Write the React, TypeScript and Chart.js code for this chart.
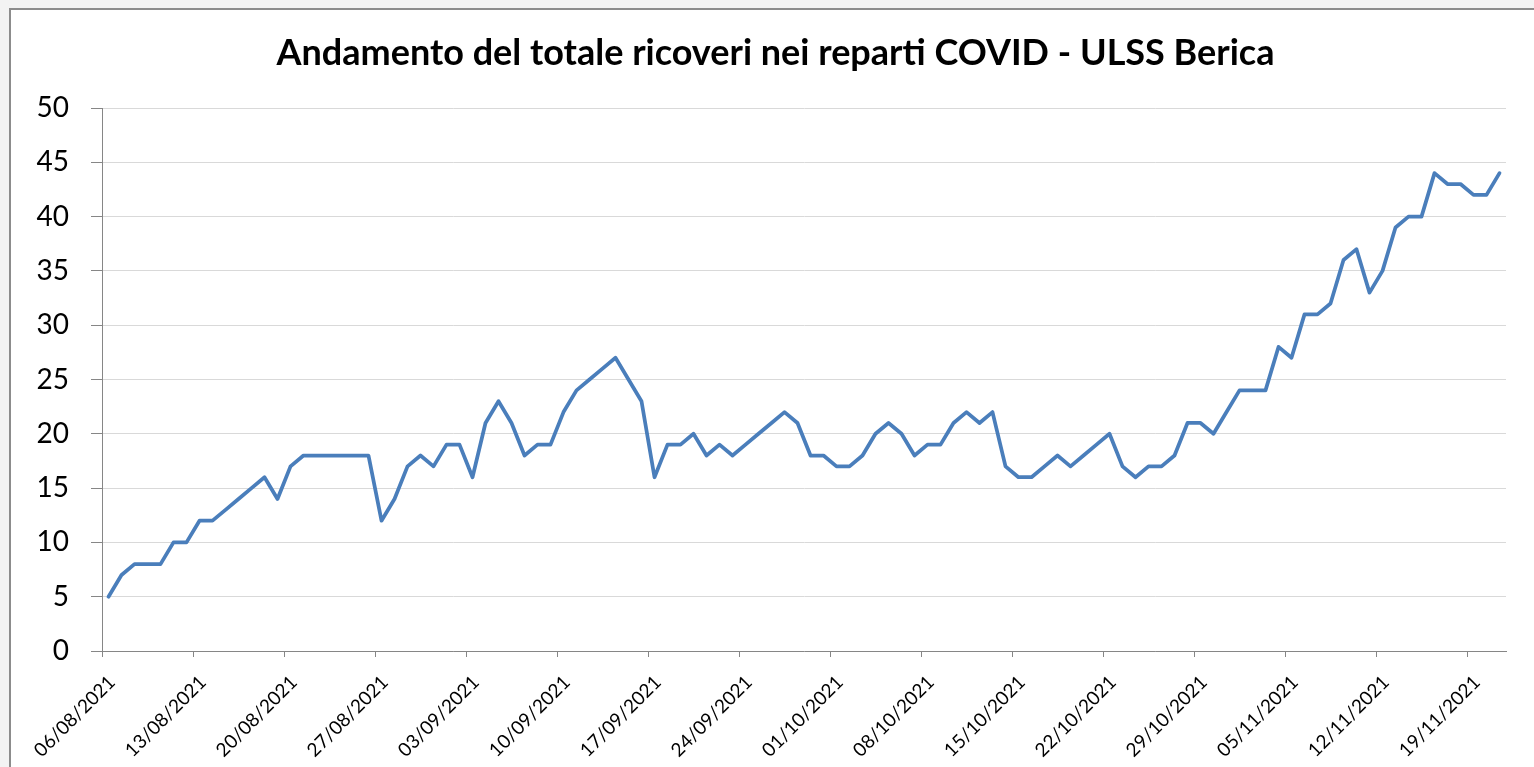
import React, { useEffect, useRef } from "react";
import { Chart, registerables } from "chart.js";

Chart.register(...registerables);

const chartTitle = "Andamento del totale ricoveri nei reparti COVID - ULSS Berica";

// one value per day, from 06/08/2021 to 21/11/2021
const ricoveri: number[] = [
  5, 7, 8, 8, 8, 10, 10, 12, 12, 13, 14, 15, 16, 14, 17, 18, 18, 18, 18, 18, 18, 12, 14, 17,
  18, 17, 19, 19, 16, 21, 23, 21, 18, 19, 19, 22, 24, 25, 26, 27, 25, 23, 16, 19, 19,
  20, 18, 19, 18, 19, 20, 21, 22, 21, 18, 18, 17, 17, 18, 20, 21, 20, 18, 19, 19, 21,
  22, 21, 22, 17, 16, 16, 17, 18, 17, 18, 19, 20, 17, 16, 17, 17, 18, 21, 21, 20, 22,
  24, 24, 24, 28, 27, 31, 31, 32, 36, 37, 33, 35, 39, 40, 40, 44, 43, 43, 42, 42, 44,
];

// weekly tick labels (every 7 days)
const tickLabels: string[] = [
  "06/08/2021", "13/08/2021", "20/08/2021", "27/08/2021", "03/09/2021", "10/09/2021",
  "17/09/2021", "24/09/2021", "01/10/2021", "08/10/2021", "15/10/2021", "22/10/2021",
  "29/10/2021", "05/11/2021", "12/11/2021", "19/11/2021",
];

const yTicks: number[] = [0, 5, 10, 15, 20, 25, 30, 35, 40, 45, 50];

const FONT = "Lato, 'Open Sans', 'DejaVu Sans', sans-serif";

export default function App() {
  const canvasRef = useRef<HTMLCanvasElement | null>(null);

  useEffect(() => {
    if (!canvasRef.current) return;
    const titlePlugin = {
      id: "customTitle",
      afterDraw(chart: any) {
        const ctx = chart.ctx;
        ctx.save();
        ctx.font = `bold 36px ${FONT}`;
        ctx.fillStyle = "#000000";
        ctx.textAlign = "center";
        ctx.textBaseline = "middle";
        ctx.fillText(chartTitle, 775.5, 53);
        ctx.restore();
      },
    };
    const chart = new Chart(canvasRef.current, {
      type: "line",
      data: {
        datasets: [
          {
            label: "Ricoveri",
            data: ricoveri.map((v, i) => ({ x: i + 0.5, y: v })),
            borderColor: "#4a7ebb",
            backgroundColor: "#4a7ebb",
            borderWidth: 3.75,
            pointRadius: 0,
            tension: 0,
            borderJoinStyle: "round",
            borderCapStyle: "round",
          },
        ],
      },
      plugins: [titlePlugin],
      options: {
        animation: false,
        responsive: true,
        maintainAspectRatio: false,
        layout: { padding: { top: 108, right: 28, bottom: 0, left: 0 } },
        plugins: {
          legend: { display: false },
          title: { display: false },
          tooltip: { enabled: false },
        },
        scales: {
          x: {
            type: "linear",
            min: 0,
            max: ricoveri.length,
            afterBuildTicks: (scale: any) => {
              scale.ticks = tickLabels.map((_, i) => ({ value: i * 7 }));
            },
            afterFit: (scale: any) => {
              scale.height = 116;
            },
            ticks: {
              autoSkip: false,
              maxRotation: 45,
              minRotation: 45,
              padding: 14,
              labelOffset: 10,
              color: "#000000",
              font: { family: FONT, size: 19 },
              callback: (value: any) => tickLabels[Math.round(Number(value) / 7)] ?? "",
            },
            grid: {
              drawOnChartArea: false,
              drawTicks: true,
              tickLength: 6,
              tickColor: "#868686",
            },
            border: { display: true, color: "#868686", width: 1 },
          },
          y: {
            type: "linear",
            min: 0,
            max: 50,
            afterBuildTicks: (scale: any) => {
              scale.ticks = yTicks.map((v) => ({ value: v }));
            },
            afterFit: (scale: any) => {
              scale.width = 102;
            },
            ticks: {
              padding: 22,
              color: "#000000",
              font: { family: FONT, size: 28 },
            },
            grid: {
              color: "#d9d9d9",
              lineWidth: 1,
              drawTicks: true,
              tickLength: 11,
              tickColor: "#868686",
            },
            border: { display: true, color: "#868686", width: 1 },
          },
        },
      },
    } as any);
    return () => chart.destroy();
  }, []);

  return (
    <div style={{ position: "fixed", left: 0, top: 0, width: 1534, height: 767, background: "#f3f3f3", overflow: "hidden" }}>
      <div
        style={{
          position: "absolute",
          left: 9,
          top: 8,
          right: 0,
          bottom: 0,
          background: "#ffffff",
          borderTop: "2px solid #8c8c8c",
          borderLeft: "2px solid #8c8c8c",
        }}
      />
      <div style={{ position: "absolute", left: 0, top: 0, width: 1534, height: 767 }}>
        <canvas ref={canvasRef} />
      </div>
    </div>
  );
}
